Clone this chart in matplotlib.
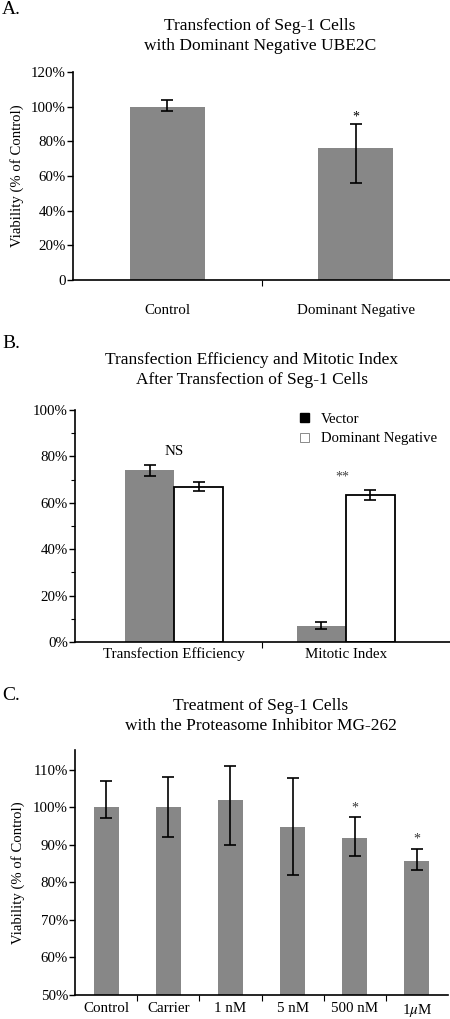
import matplotlib
matplotlib.use("Agg")
import matplotlib.pyplot as plt
from matplotlib.patches import Patch
from matplotlib.ticker import FixedLocator, MultipleLocator, FuncFormatter

plt.rcParams["font.family"] = ["Liberation Serif", "DejaVu Serif"]
plt.rcParams["mathtext.fontset"] = "stix"

# Panel A data
a_labels = ["Control", "Dominant Negative"]
a_values = [100, 76]
a_err_low = [2.5, 20]
a_err_high = [4, 14]
a_stars = ["", "*"]

# Panel B data
b_groups = ["Transfection Efficiency", "Mitotic Index"]
b_vector = [74, 7]
b_vector_err = [2.3, 1.5]
b_dn = [67, 63.5]
b_dn_err = [1.8, 2.2]
b_marks = ["NS", "**"]

# Panel C data
c_labels = ["Control", "Carrier", "1 nM", "5 nM", "500 nM", "1$\\mu$M"]
c_values = [100, 100.1, 102.1, 94.9, 91.9, 85.6]
c_err_low = [2.7, 8.0, 12.0, 12.8, 4.8, 2.3]
c_err_high = [7.0, 8.0, 9.0, 12.9, 5.5, 3.4]
c_stars = ["", "", "", "", "*", "*"]

W, H = 450, 1019
GRAY = "#878787"
TICK_FS = 10.8


def px_axes(fig, left, top, right, bottom):
    return fig.add_axes([left / W, 1 - bottom / H, (right - left) / W, (bottom - top) / H])


def style(ax):
    for s in ("top", "right"):
        ax.spines[s].set_visible(False)
    ax.spines["left"].set_linewidth(1.2)
    ax.spines["bottom"].set_linewidth(1.2)
    ax.tick_params(axis="y", direction="out", length=4, width=1, labelsize=10.7, pad=1)
    ax.tick_params(axis="y", which="minor", direction="out", length=3, width=0.8)
    ax.tick_params(axis="x", which="major", length=0)
    ax.tick_params(axis="x", which="minor", direction="out", length=4, width=0.8)


pct = FuncFormatter(lambda v, p: f"{v:.0f}%")

fig = plt.figure(figsize=(W / 100, H / 100), dpi=100)

# ---------- Panel A ----------
ax = px_axes(fig, 73, 72, 450, 280)
style(ax)
xa = list(range(len(a_labels)))
ax.bar(xa, a_values, width=0.4, color=GRAY)
ax.errorbar(xa, a_values, yerr=[a_err_low, a_err_high], fmt="none", ecolor="black",
            elinewidth=1.2, capsize=4, capthick=1.2)
for x, v, e, s in zip(xa, a_values, a_err_high, a_stars):
    if s:
        ax.text(x, v + e + 0.5, s, ha="center", va="bottom", fontsize=10)
ax.set_xlim(-0.5, 1.5)
ax.set_ylim(0, 120)
ax.set_yticks(range(0, 121, 20))
ax.yaxis.set_major_formatter(FuncFormatter(lambda v, p: "0" if v == 0 else f"{v:.0f}%"))
ax.set_xticks(xa)
ax.set_xticklabels(a_labels, fontsize=TICK_FS)
ax.tick_params(axis="x", pad=17)
ax.xaxis.set_minor_locator(FixedLocator([0.5]))
ax.set_ylabel("Viability (% of Control)", fontsize=10.6, labelpad=5)
fig.text(260 / W, 1 - 36 / H, "Transfection of Seg-1 Cells\nwith Dominant Negative UBE2C",
         ha="center", va="center", fontsize=12.5, linespacing=1.3)
fig.text(2 / W, 1 - 10 / H, "A.", ha="left", va="center", fontsize=14)

# ---------- Panel B ----------
ax = px_axes(fig, 75, 410, 450, 642)
style(ax)
xb = list(range(len(b_groups)))
bw = 0.285
xv = [x - bw / 2 for x in xb]
xd = [x + bw / 2 for x in xb]
ax.bar(xv, b_vector, width=bw, color=GRAY)
ax.bar(xd, b_dn, width=bw, color="white", edgecolor="black", linewidth=1.3)
ax.errorbar(xv, b_vector, yerr=b_vector_err, fmt="none", ecolor="black", elinewidth=1.2, capsize=4, capthick=1.2)
ax.errorbar(xd, b_dn, yerr=b_dn_err, fmt="none", ecolor="black", elinewidth=1.2, capsize=4, capthick=1.2)
ax.text(xb[0], 82, b_marks[0], ha="center", va="center", fontsize=10.8)
ax.text(xb[1] - 0.02, 71, b_marks[1], ha="center", va="center", fontsize=10, color="#444444")
ax.set_xlim(-0.576, 1.605)
ax.set_ylim(0, 100)
ax.yaxis.set_major_locator(MultipleLocator(20))
ax.yaxis.set_minor_locator(MultipleLocator(10))
ax.yaxis.set_major_formatter(pct)
ax.set_xticks(xb)
ax.set_xticklabels(b_groups, fontsize=TICK_FS)
ax.tick_params(axis="x", pad=4)
ax.xaxis.set_minor_locator(FixedLocator([0.512]))
handles = [Patch(facecolor="black", edgecolor="black", label="Vector"),
           Patch(facecolor="white", edgecolor="#777777", linewidth=0.6, label="Dominant Negative")]
ax.legend(handles=handles, loc="upper left", bbox_to_anchor=(0.565, 1.045), frameon=False,
          fontsize=10.6, handlelength=0.6, handleheight=0.6, handletextpad=0.8, labelspacing=0.45)
fig.text(252 / W, 1 - 370 / H, "Transfection Efficiency and Mitotic Index\nAfter Transfection of Seg-1 Cells",
         ha="center", va="center", fontsize=12.5, linespacing=1.3)
fig.text(2 / W, 1 - 343 / H, "B.", ha="left", va="center", fontsize=14)

# ---------- Panel C ----------
ax = px_axes(fig, 75, 750, 448, 995)
style(ax)
xc = list(range(len(c_labels)))
ax.bar(xc, c_values, width=0.4, color=GRAY)
ax.errorbar(xc, c_values, yerr=[c_err_low, c_err_high], fmt="none", ecolor="black",
            elinewidth=1.2, capsize=4, capthick=1.2)
for x, v, e, s in zip(xc, c_values, c_err_high, c_stars):
    if s:
        ax.text(x, v + e + 0.8, s, ha="center", va="bottom", fontsize=10, color="#333333")
ax.set_xlim(-0.5, 5.5)
ax.set_ylim(50, 115.3)
ax.set_yticks(range(50, 111, 10))
ax.yaxis.set_major_formatter(pct)
ax.set_xticks(xc)
ax.set_xticklabels(c_labels, fontsize=TICK_FS)
ax.tick_params(axis="x", pad=5)
ax.xaxis.set_minor_locator(FixedLocator([i + 0.5 for i in xc[:-1]]))
ax.set_ylabel("Viability (% of Control)", fontsize=10.6, labelpad=6)
fig.text(261 / W, 1 - 716 / H, "Treatment of Seg-1 Cells\nwith the Proteasome Inhibitor MG-262",
         ha="center", va="center", fontsize=12.5, linespacing=1.3)
fig.text(2 / W, 1 - 695 / H, "C.", ha="left", va="center", fontsize=14)

fig.savefig("out.png", dpi=100)
